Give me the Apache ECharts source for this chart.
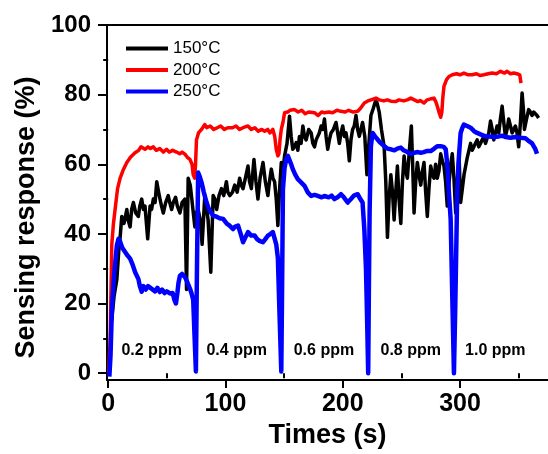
<!DOCTYPE html>
<html>
<head>
<meta charset="utf-8">
<script src="https://cdn.jsdelivr.net/npm/echarts@6/dist/echarts.min.js"></script>
<style>html,body{margin:0;padding:0;background:#fff;}#c{width:548px;height:454px;}</style>
</head>
<body>
<div id="c"></div>
<script>
const seriesNames = ['150°C', '200°C', '250°C'];
const xMajorTicks = [0, 100, 200, 300];
const xMinorTicks = [50, 150, 250, 350];
const yMajorTicks = [0, 20, 40, 60, 80, 100];
const yMinorTicks = [10, 30, 50, 70, 90];
const ppmLabels = ['0.2 ppm', '0.4 ppm', '0.6 ppm', '0.8 ppm', '1.0 ppm'];
const ppmLabelX = [37.5, 110, 184.4, 258.4, 330.5];
const ppmLabelY = [6.4, 6.4, 6.4, 6.4, 6.4];

const black150 = [
[3,15],[5,22],[7.4,27],[9,35],[10.2,39],[11.6,45],[13.5,43],[15.9,47],[17,44],[18.7,42],[20,47],[21.5,49],[23.5,46],[25.7,45],[27,48],[28.6,50],[30,47],[31.4,48],[33.7,38.6],[35.7,48],[37,47],[38.5,50],[40,49],[41.4,55],[43,52],[44.2,50],[45.5,48],[47,46],[49,49],[51.2,51],[52.5,49],[54.1,47],[55.5,49],[57.5,50.5],[59,48],[61.2,46],[63,49],[65.4,50],[66.8,24],[68.2,56],[70,54],[71.6,54],[73.9,42],[75,46],[76.7,47],[78.5,44],[80.1,37],[82.4,51],[84,47],[85.2,44],[87.5,29],[89.5,51],[91,50],[92.5,47],[94.5,51],[96.6,53],[98.5,51],[100.8,55],[102,52],[103.7,51],[106,52],[107.9,54],[110,52],[112.1,56],[113.5,54],[115,53],[117,56],[119.2,59.5],[120.5,55],[122.1,53],[124.3,61.4],[126,55],[127.7,50],[129.5,56],[132,60.5],[134,55],[136.2,51],[137.5,55],[139.1,58.6],[140.5,56],[141.9,55],[143.3,50],[144.7,42.4],[146,52],[147.6,60.5],[149,58],[150.4,62.4],[152.5,66],[154.6,73.8],[156,68],[157.4,64.3],[158.8,65],[160.3,66.2],[161.7,64],[163.1,68],[164.5,66],[166,71],[167.4,68],[168.8,67],[171,70],[173.1,69],[174.5,66],[175.9,65],[177.3,67],[178.7,67],[180,69],[181.6,71],[183,70],[184.4,73],[185.8,68],[187.2,64.3],[188.6,67],[190,69],[192,70],[194.3,72],[195.7,69],[197.1,66],[198.5,69],[200,71],[201.4,68],[202.8,69],[204.2,66],[205.6,61],[207,67],[208.4,70],[209.8,71],[211.3,74],[212.7,70],[214.1,68],[215.5,70],[216.9,72],[218.8,68],[220.6,57],[222.3,66],[224,74],[226,76],[228.3,78.6],[229.7,77],[231.1,75],[233,70],[235.3,65],[236.7,55],[238.1,39],[239.5,50],[241,57],[242.4,52],[243.8,44],[245.2,52],[246.6,59.5],[248,50],[249.5,43],[250.9,55],[252.3,62.4],[253.7,58],[255.1,56],[256.8,64],[258.5,71],[259.6,60],[260.8,46],[262.2,55],[263.6,60.5],[265,57],[266.5,54],[267.9,58],[269.3,60.5],[270.7,52],[272.1,45],[273.5,53],[275,59.5],[276.4,57],[277.8,56],[279.2,60],[280.6,56],[282,58],[283.5,63],[284.9,61],[286.3,59.5],[287.7,55],[289.1,48],[290.5,54],[292,60],[293.4,63],[294.8,56],[296.3,46],[297.7,55],[299.1,63],[300.5,49],[302,53],[303.4,57],[304.8,59.5],[306.2,62],[307.6,64],[309,66],[310.4,64],[311.8,64],[313.2,66],[314.6,67],[316,65],[317.5,65],[318.9,67],[320.3,68],[321.7,66],[323.1,66],[324.5,69],[326,72.4],[327.4,70],[328.8,67],[330.2,69],[331.6,71],[333,69],[334.4,73],[335.9,76.7],[337.3,72],[338.7,68],[340.1,70],[341.5,73],[343,71],[344.4,69],[345.8,70],[347.2,71],[348.6,69],[350,65],[351.5,72],[352.9,80.5],[354,76],[354.9,70],[356.7,73],[358.5,75.7],[360,75],[361.4,74],[362.8,75],[364.2,75],[365.6,74],[367,73.3]
];

const red200 = [
[0.5,0],[1.7,10],[3.1,37],[4.5,43],[5.9,47],[8,53],[10.2,56],[13,58.5],[15.9,60.5],[19,62],[22.9,63.3],[26,64],[28,65],[31.4,64.3],[34,65],[36,64.5],[38.5,65],[41,64],[44,64.5],[47,63.5],[49.8,64.3],[52,63.5],[55,64],[58.3,63.5],[61,63],[63,63.5],[65.4,62.9],[67.5,62],[69.7,61.4],[71.5,60],[72.5,57],[73.7,56],[74.5,60],[75.3,67],[77,69],[79.6,70],[82.4,71.4],[84,70.5],[87,71],[90,70],[93,70.5],[96,71],[99,70],[102,70.5],[106,70.5],[109,71],[112,70],[115,70.5],[119.2,71],[122,70],[125,70.5],[128,69.5],[131,70],[133.4,69.5],[136,70],[138,69],[140.4,70],[142,68],[143.3,64.3],[144.7,62.4],[145.6,63],[146.5,67],[147.6,70],[149,72],[150.4,74.8],[153,75],[155,75.5],[158.9,75.7],[162,75],[165,75.5],[168,74.5],[171,75],[175.9,74.8],[179,74],[182,75],[184.4,74.8],[188,75],[191.4,74.8],[195,75.5],[198.5,75.2],[202,75],[205,75.5],[209,75],[212.7,75.2],[215,76],[218.4,77.6],[221,78.1],[224,78.5],[228.3,79],[231,78.5],[235,78.2],[238,78.5],[241,78.1],[245,78],[248,78.5],[252,78.2],[255,78.5],[258,79],[261,78.5],[264,78],[266,78.3],[269.3,77.6],[272,78.5],[275,78.8],[277.8,79],[279.3,78],[280.6,76.7],[282,75],[283.5,73.5],[284.5,75],[285.3,79],[286.3,82.4],[288.5,84.3],[290.6,85.2],[293.4,85.7],[297,86],[300,85.7],[303.3,86.2],[307,85.7],[310.4,85.7],[314,86],[317,85.5],[320.3,85.7],[324,86],[327.4,86.2],[331,86],[334.5,86.7],[338,86.2],[340.1,86.7],[343,86],[345.8,86.2],[348.5,86],[350.9,85.7],[352,83.3]
];

const blue250 = [
[1,-1],[2,5],[3.1,17.6],[5,28],[7.4,36.7],[8.8,38.6],[10,38],[12,36],[14,35],[16,34],[18.7,32.9],[21,31],[23,29],[25.8,27],[27,25],[28.6,23.4],[30,25],[32,24],[34,25],[35.7,24.8],[38,24],[40,23.5],[42,24.5],[44,23.3],[46,24],[48,23],[50,23.5],[52.7,22.9],[55,23],[56.5,21],[57.8,20],[59,23],[60,26],[61.2,28],[63,28.5],[65.4,27.6],[67,26.5],[69.7,24.3],[71,23],[72.5,21],[73.5,12],[74.8,0.5],[75.7,30],[76.7,57.6],[78,56.5],[79.6,54.8],[81.5,52],[83.9,49],[86,47],[89.5,45.2],[92,45],[95,44.5],[98,44.3],[101,43],[103,42.5],[106.5,41.4],[108,42],[110.7,42.4],[113,40],[115,37.6],[117,39],[119.2,40.5],[122,39.5],[124.9,39.5],[127,38.5],[129,38],[132,37.6],[134,38.5],[136.2,39.5],[138.5,40],[140.4,40.5],[141.9,40.5],[143.3,37],[144.7,33],[146,18],[147.6,0.5],[148.3,25],[149,52.9],[150.4,59],[151.8,61.4],[153.2,62.4],[154.6,62],[156,60],[157.4,58.6],[159.5,57],[161.7,55.7],[164.5,54.8],[167.4,53.8],[170,52],[173.1,50.9],[176,51.2],[178.7,50.9],[182,50.5],[184.4,50.9],[188,50.5],[190.5,51],[192.9,50],[195.5,50.5],[198.5,51.4],[201,50.5],[204.2,49],[207,50],[209.5,51],[212.7,51.4],[215,50],[216.9,49],[218.4,41.4],[219.8,30],[220.8,15],[221.7,0],[222.3,25],[222.9,46],[224,65.2],[225.4,69],[227.5,68],[229.7,67.1],[232,66.2],[235.3,65.2],[238,64.5],[241,64.3],[244,64],[246.5,64.5],[249.5,64.8],[252,64],[255,63.5],[258,62.9],[261,63.3],[264,63.5],[266.5,63.3],[269,63.5],[271.5,63.8],[275,63.8],[278,64.5],[280.6,65.2],[283.5,65.2],[286,65],[287.8,64.3],[289.1,60],[290.5,52],[292,44.3],[293.4,22],[294.8,0],[296,20],[297.6,51.9],[299,62],[300.5,69],[302,70.5],[303.3,71.4],[306,71],[309,70.5],[312,69.5],[314.6,69],[318,68.5],[321.8,68],[325,68],[329,67.8],[333,68],[336,68.2],[339,67.8],[343,67.6],[347,67.8],[351.5,67.6],[355.7,67.5],[358.5,66.7],[361.4,66],[362.8,65.7],[364,64.5],[365.6,63]
];

const FONT = 'Liberation Sans, Arial, sans-serif';
const chart = echarts.init(document.getElementById('c'), null, {renderer: 'canvas'});

const ppmData = ppmLabelX.map((x, i) => ({value: [x, ppmLabelY[i]], name: ppmLabels[i]}));

chart.setOption({
  animation: false,
  backgroundColor: '#fff',
  textStyle: {fontFamily: FONT},
  grid: {left: 107, top: 25, width: 442, height: 357, containLabel: false},
  legend: {
    data: seriesNames,
    orient: 'vertical',
    left: 126, top: 40, padding: 0,
    itemWidth: 42, itemHeight: 4, itemGap: 4.5,
    icon: 'rect',
    textStyle: {fontSize: 17, color: '#000', fontFamily: FONT, lineHeight: 17}
  },
  xAxis: [{
    type: 'value', min: -1, max: 375,
    name: 'Times (s)', nameLocation: 'middle', nameGap: 41,
    nameTextStyle: {fontSize: 27, fontWeight: 'bold', color: '#000', fontFamily: FONT},
    axisLine: {show: true, onZero: false, lineStyle: {color: '#000', width: 2}},
    axisTick: {show: true, length: 8, lineStyle: {color: '#000', width: 2}, customValues: xMajorTicks},
    axisLabel: {show: true, margin: 12, fontSize: 25, fontWeight: 'bold', color: '#000', fontFamily: FONT, customValues: xMajorTicks},
    splitLine: {show: false}
  }, {
    type: 'value', min: -1, max: 375, position: 'bottom',
    axisLine: {show: false},
    axisTick: {show: true, length: 5, lineStyle: {color: '#000', width: 2}, customValues: xMinorTicks},
    axisLabel: {show: false},
    splitLine: {show: false}
  }, {
    type: 'value', min: -1, max: 375, position: 'top',
    axisLine: {show: true, onZero: false, lineStyle: {color: '#000', width: 2}},
    axisTick: {show: false},
    axisLabel: {show: false},
    splitLine: {show: false}
  }],
  yAxis: [{
    type: 'value', min: -2, max: 100,
    name: 'Sensing response (%)', nameLocation: 'middle', nameGap: 65, nameRotate: 90,
    nameTextStyle: {fontSize: 27, fontWeight: 'bold', color: '#000', fontFamily: FONT, padding: [0, 30, 0, 0]},
    axisLine: {show: true, onZero: false, lineStyle: {color: '#000', width: 2}},
    axisTick: {show: true, length: 9, lineStyle: {color: '#000', width: 2}, customValues: yMajorTicks},
    axisLabel: {show: true, margin: 16, fontSize: 24, fontWeight: 'bold', color: '#000', fontFamily: FONT, customValues: yMajorTicks},
    splitLine: {show: false}
  }, {
    type: 'value', min: -2, max: 100, position: 'left',
    axisLine: {show: false},
    axisTick: {show: true, length: 5, lineStyle: {color: '#000', width: 2}, customValues: yMinorTicks},
    axisLabel: {show: false},
    splitLine: {show: false}
  }],
  series: [{
    name: seriesNames[0], type: 'line', data: black150, showSymbol: false, symbol: 'none',
    color: '#000000', lineStyle: {width: 3.5, color: '#000000', join: 'round'}, z: 2
  }, {
    name: seriesNames[1], type: 'line', data: red200, showSymbol: false, symbol: 'none',
    color: '#ff0000', lineStyle: {width: 3.5, color: '#ff0000', join: 'round'}, z: 3
  }, {
    name: seriesNames[2], type: 'line', data: blue250, showSymbol: false, symbol: 'none',
    color: '#0000ff', lineStyle: {width: 4.5, color: '#0000ff', join: 'round'}, z: 4
  }, {
    name: 'ppm', type: 'scatter', data: ppmData, symbolSize: 1, silent: true,
    itemStyle: {opacity: 0},
    label: {show: true, position: [0, 0], align: 'center', verticalAlign: 'middle', opacity: 1,
      formatter: p => p.name, fontSize: 16, fontWeight: 'bold', color: '#000000', fontFamily: FONT},
    z: 5
  }]
});
</script>
</body>
</html>
